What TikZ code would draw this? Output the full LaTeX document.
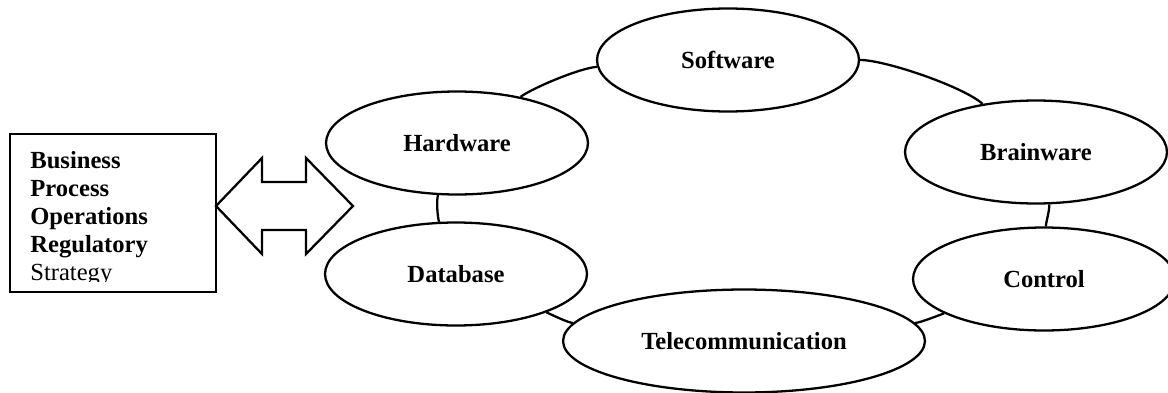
\documentclass[tikz,border=0pt]{standalone}
\usepackage{fontspec}
\setmainfont{Liberation Serif}
\usetikzlibrary{shapes.geometric}
\tikzset{
  part/.style={ellipse, draw, line width=1.3pt, minimum width=5.24cm,
    minimum height=2.06cm, inner sep=0pt, font=\fontsize{14}{16}\selectfont\bfseries},
  ring/.style={line width=1.3pt, looseness=0.5}
}
\begin{document}
\begin{tikzpicture}[x=0.02cm,y=0.02cm]
      \useasboundingbox (0,0) rectangle (1168,-392);
      \draw
        (457,-143) node[part] (hw){Hardware}
        (728,-60) node[part] (sw){Software}
        (1036,-152) node[part] (bw){Brainware}
        (1044,-279) node[part] (ctl){Control}
        (744,-341) node[part, minimum width=7.24cm] (tel){Telecommunication}
        (456,-274) node[part] (db){Database};
      \begin{scope}[ring]
        \draw (hw) to[out=36, in=183] (sw);
        \draw (sw) to[out=0, in=138] (bw);
        \draw (bw) to[out=-76, in=88] (ctl);
        \draw (ctl) to[out=199, in=6] (tel);
        \draw (tel) to[out=174, in=-23] (db);
        \draw (db) to[out=108, in=250] (hw);
      \end{scope}
      \node[draw, line width=1.3pt, minimum width=4.12cm, minimum height=3.16cm,
        inner sep=0pt] (biz) at (113,-213) {};
      \begin{scope}
        \clip (12,-136) rectangle (214,-281);
        \node[anchor=north west, align=left, inner sep=0pt,
          font=\fontsize{14}{16}\selectfont] (bizText) at (30,-151)
          {\textbf{Business}\\ \textbf{Process}\\ \textbf{Operations}\\
           \textbf{Regulatory}\\ Strategy};
      \end{scope}
      \draw[line width=1.3pt, line join=miter]
        (216,-206) -- (262,-158) -- (262,-182) -- (306,-182) -- (306,-158)
        -- (353,-206) -- (306,-254) -- (306,-230) -- (262,-230) -- (262,-254)
        -- cycle;
    \end{tikzpicture}
\end{document}
